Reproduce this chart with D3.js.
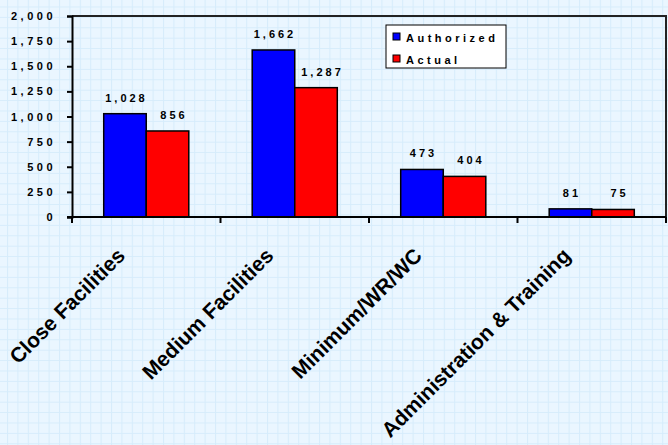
<!DOCTYPE html>
<html>
<head>
<meta charset="utf-8">
<script src="https://cdn.jsdelivr.net/npm/d3@7"></script>
<style>
  html, body { margin: 0; padding: 0; background: #eaf6ff; }
  svg { display: block; }
  text { font-family: "Liberation Sans", Arial, sans-serif; font-weight: bold; fill: #000; }
</style>
</head>
<body>
<svg id="chart" width="668" height="445"></svg>
<script>
// Staffing by facility type
const categories = ["Close Facilities", "Medium Facilities", "Minimum/WR/WC", "Administration & Training"];
const seriesNames = ["Authorized", "Actual"];
const authorized = [1028, 1662, 473, 81];
const actual = [856, 1287, 404, 75];
const seriesColors = ["#0000ff", "#ff0000"];
const yTicks = [0, 250, 500, 750, 1000, 1250, 1500, 1750, 2000];

const W = 668, H = 445;
const plot = { left: 72, right: 666, top: 16, bottom: 217 };

const svg = d3.select("#chart");

// graph-paper background
const defs = svg.append("defs");
const pat = defs.append("pattern")
  .attr("id", "grid").attr("patternUnits", "userSpaceOnUse")
  .attr("width", 10.4).attr("height", 10.4).attr("x", 7).attr("y", 6.5);
pat.append("rect").attr("width", 10.4).attr("height", 10.4).attr("fill", "#eaf6ff");
pat.append("path").attr("d", "M0,0.5H10.4M0.5,0V10.4")
  .attr("stroke", "#d6ecfb").attr("stroke-width", 1).attr("fill", "none");
svg.append("rect").attr("width", W).attr("height", H).attr("fill", "url(#grid)");

const x = d3.scaleBand().domain(categories).range([plot.left, plot.right]).padding(0);
const xs = d3.scaleBand().domain(seriesNames).range([0, x.bandwidth()])
  .paddingInner(0).paddingOuter(0.745);
const y = d3.scaleLinear().domain([0, 2000]).range([plot.bottom, plot.top]);

const rows = categories.map((c, i) => ({ cat: c, vals: [authorized[i], actual[i]] }));

// plot frame (top and right edges)
svg.append("path")
  .attr("d", `M${plot.left},${plot.top}H${plot.right}V${plot.bottom}`)
  .attr("fill", "none").attr("stroke", "#222").attr("stroke-width", 2);

// bars
const groups = svg.append("g").selectAll("g").data(rows).join("g")
  .attr("transform", d => `translate(${x(d.cat)},0)`);
groups.selectAll("rect")
  .data(d => d.vals.map((v, k) => ({ s: seriesNames[k], v, k })))
  .join("rect")
  .attr("x", d => xs(d.s))
  .attr("y", d => y(d.v))
  .attr("width", xs.bandwidth())
  .attr("height", d => y(0) - y(d.v))
  .attr("fill", d => seriesColors[d.k])
  .attr("stroke", "#000").attr("stroke-width", 1.5);

// value labels
const fmt = d3.format(",");
groups.selectAll("text.val")
  .data(d => d.vals.map((v, k) => ({ s: seriesNames[k], v, k })))
  .join("text").attr("class", "val")
  .attr("x", d => xs(d.s) + xs.bandwidth() / 2 + (d.k === 1 ? 5 : 0) + 1.5)
  .attr("y", d => y(d.v) - 12)
  .attr("text-anchor", "middle")
  .style("font-size", "11px").style("letter-spacing", "3px")
  .text(d => fmt(d.v));

// y axis
const yAxis = svg.append("g").attr("transform", `translate(${plot.left},0)`)
  .call(d3.axisLeft(y).tickValues(yTicks).tickFormat(fmt).tickSize(5).tickPadding(11));
yAxis.select(".domain").attr("stroke", "#000").attr("stroke-width", 2);
yAxis.selectAll(".tick line").attr("stroke", "#000").attr("stroke-width", 2);
yAxis.selectAll(".tick text")
  .style("font-size", "11px").style("letter-spacing", "3.5px")
  .style("font-family", "'Liberation Sans', Arial, sans-serif").style("font-weight", "bold")
  .attr("fill", "#000");

// x axis: baseline with ticks at category boundaries
const edges = categories.map(c => x(c)).concat([plot.right]);
svg.append("line")
  .attr("x1", plot.left - 5).attr("x2", plot.right)
  .attr("y1", plot.bottom).attr("y2", plot.bottom)
  .attr("stroke", "#000").attr("stroke-width", 2);
svg.append("g").selectAll("line").data(edges).join("line")
  .attr("x1", d => d).attr("x2", d => d)
  .attr("y1", plot.bottom).attr("y2", plot.bottom + 6)
  .attr("stroke", "#000").attr("stroke-width", 2);

// rotated category labels
svg.append("g").selectAll("text").data(categories).join("text")
  .attr("text-anchor", "end")
  .attr("transform", c => `translate(${x(c) + x.bandwidth() / 2 - 20},257) rotate(-45)`)
  .style("font-size", "21px")
  .text(c => c);

// legend
const lg = svg.append("g").attr("transform", "translate(386,25)");
lg.append("rect").attr("width", 120).attr("height", 43)
  .attr("fill", "#fff").attr("stroke", "#000").attr("stroke-width", 1);
seriesNames.forEach((s, k) => {
  lg.append("rect").attr("x", 7).attr("y", 8 + k * 22).attr("width", 7).attr("height", 7)
    .attr("fill", seriesColors[k]).attr("stroke", "#000").attr("stroke-width", 1);
  lg.append("text").attr("x", 20).attr("y", 16.5 + k * 22)
    .style("font-size", "11px").style("letter-spacing", "3.5px")
    .text(s);
});
</script>
</body>
</html>
